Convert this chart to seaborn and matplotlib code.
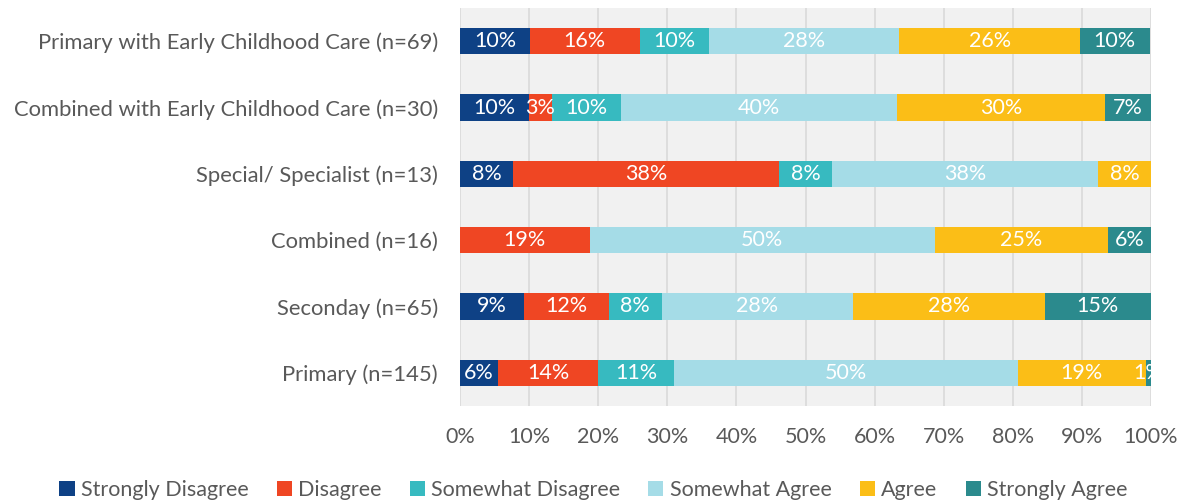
import numpy as np
import pandas as pd
import matplotlib
matplotlib.use("Agg")
import matplotlib.pyplot as plt
from matplotlib.patches import Patch
import seaborn as sns

# --- data (percent of respondents per school type) ---
schools = [
    "Primary with Early Childhood Care (n=69)",
    "Combined with Early Childhood Care (n=30)",
    "Special/ Specialist (n=13)",
    "Combined (n=16)",
    "Seconday (n=65)",
    "Primary (n=145)",
]
responses = [
    "Strongly Disagree",
    "Disagree",
    "Somewhat Disagree",
    "Somewhat Agree",
    "Agree",
    "Strongly Agree",
]
strongly_disagree = [10.1, 10.0, 7.7, 0.0, 9.2, 5.5]
disagree = [15.9, 3.3, 38.5, 18.75, 12.3, 14.5]
somewhat_disagree = [10.1, 10.0, 7.7, 0.0, 7.7, 11.0]
somewhat_agree = [27.5, 40.0, 38.5, 50.0, 27.7, 49.7]
agree = [26.1, 30.0, 7.7, 25.0, 27.7, 18.6]
strongly_agree = [10.1, 6.7, 0.0, 6.25, 15.4, 0.7]

colors = ["#0E4185", "#EF4623", "#37BAC0", "#A5DCE7", "#FBBE17", "#2B8A8D"]

df = pd.DataFrame(
    {
        "school": schools,
        "Strongly Disagree": strongly_disagree,
        "Disagree": disagree,
        "Somewhat Disagree": somewhat_disagree,
        "Somewhat Agree": somewhat_agree,
        "Agree": agree,
        "Strongly Agree": strongly_agree,
    }
)
cum = df[responses].cumsum(axis=1)

sns.set_theme(style="white")
plt.rcParams["font.family"] = ["Lato", "DejaVu Sans"]
text_color = "#595959"

fig = plt.figure(figsize=(11.87, 5.04), dpi=100)
ax = fig.add_axes([460 / 1187, 1 - 406 / 504, 691 / 1187, 398 / 504])
ax.set_facecolor("#F1F1F1")

# stacked bars: draw cumulative totals from the longest down
for k in range(len(responses) - 1, -1, -1):
    plot_df = pd.DataFrame({"school": schools, "value": cum[responses[k]].values})
    sns.barplot(
        data=plot_df, x="value", y="school", orient="h",
        color=colors[k], width=0.4, saturation=1, ax=ax, zorder=3,
        linewidth=0,
    )

# value labels
for i, s in enumerate(schools):
    left = 0.0
    for k, r in enumerate(responses):
        v = df.loc[i, r]
        if v > 0:
            ax.text(left + v / 2, i, f"{v:.0f}%", ha="center", va="center",
                    color="white", fontsize=15.5, zorder=4, clip_on=True)
        left += v

ax.set_xlim(0, 100)
ax.set_ylim(5.5, -0.5)
ax.set_xticks(np.arange(0, 101, 10))
ax.set_xticklabels([f"{t}%" for t in range(0, 101, 10)])
ax.xaxis.grid(True, color="#D9D9D9", linewidth=1.2, zorder=0)
ax.set_axisbelow(True)
for sp in ax.spines.values():
    sp.set_visible(False)
ax.set_xlabel("")
ax.set_ylabel("")
ax.tick_params(axis="x", colors=text_color, labelsize=15.5, length=0, pad=15)
ax.tick_params(axis="y", colors=text_color, labelsize=15.8, length=0, pad=16)

handles = [Patch(facecolor=c, edgecolor="none") for c in colors]
fig.legend(handles, responses, loc="center", bbox_to_anchor=(0.5, 1 - 490 / 504),
           ncol=6, frameon=False, fontsize=15.5, handlelength=0.7, handleheight=0.7,
           handletextpad=0.3, columnspacing=1.3, labelcolor=text_color)

fig.savefig("out.png", dpi=100)
